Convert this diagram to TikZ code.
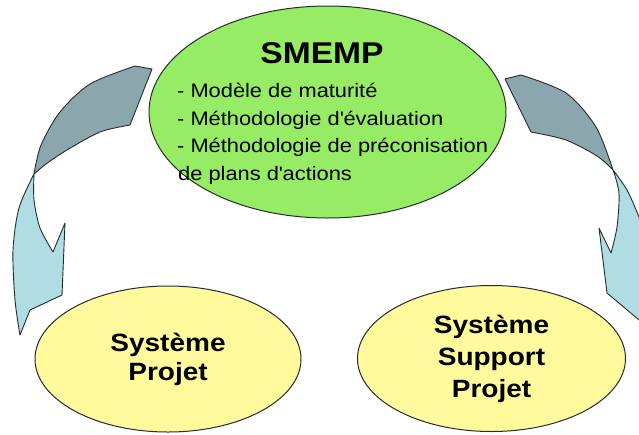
\documentclass[tikz,border=0pt]{standalone}
\usepackage{fontspec}
\setmainfont{Liberation Sans}[FakeStretch=1.12]
\usetikzlibrary{shapes.geometric}
\definecolor{smgreen}{RGB}{150,236,100}
\definecolor{syellow}{RGB}{255,250,155}
\definecolor{bandback}{RGB}{140,166,174}
\definecolor{bandfront}{RGB}{176,220,228}
\definecolor{edgecol}{RGB}{35,45,45}
\begin{document}
\begin{tikzpicture}[x=1pt,y=-1pt,
  oval/.style={draw=edgecol,line width=1pt,ellipse,inner sep=0pt},
  band/.style={draw=edgecol,line width=0.9pt,line join=round},
  bigtitle/.style={font=\fontsize{30}{30}\selectfont\bfseries,inner sep=0pt,anchor=base},
  item/.style={font=\fontsize{19.5}{20}\selectfont,inner sep=0pt,anchor=base west},
  sysl/.style={font=\fontsize{25}{25}\selectfont\bfseries,inner sep=0pt,anchor=base}]
\useasboundingbox (0,0) rectangle (639,434);
\begin{scope}
\clip (0,0) rectangle (639,434);
% left ribbon arrow
\path[band,fill=bandback] (135,66) -- (152,69) -- (130,125)
  -- plot[smooth] coordinates {(130,125) (100,132) (67,150) (46,164) (34,174)}
  -- plot[smooth] coordinates {(34,174) (41,145) (60,112) (90,84) (135,66)} -- cycle;
\path[band,fill=bandfront] (34,174)
  -- plot[smooth] coordinates {(34,174) (34,200) (40,228) (53,252)}
  -- (65,223) -- (62,295) -- (30,310) -- (20,335)
  -- plot[smooth] coordinates {(20,335) (15,300) (13,250) (19,208) (34,174)} -- cycle;
% right ribbon arrow
\path[band,fill=bandback] (505,79) -- (521,75)
  -- plot[smooth] coordinates {(521,75) (566,93) (596,127) (613,170)}
  -- plot[smooth] coordinates {(613,170) (597,156) (566,140) (531,132)} -- cycle;
\path[band,fill=bandfront] (613,170)
  -- plot[smooth] coordinates {(613,170) (619,193) (617,227) (611,253)}
  -- (599,228) -- (607,293) -- (645,325) -- (652,250)
  -- plot[smooth] coordinates {(652,250) (639,217) (627,190) (613,170)} -- cycle;
\end{scope}
% ovals
\node[oval,fill=smgreen,minimum width=357pt,minimum height=212pt] (smemp) at (327.5,112) {};
\node[oval,fill=syellow,minimum width=266pt,minimum height=146pt] (sp) at (168,359) {};
\node[oval,fill=syellow,minimum width=268pt,minimum height=146pt] (ssp) at (491.5,358.5) {};
% texts
\node[bigtitle] (title) at (322,63) {SMEMP};
\node[item] (l1) at (177,97) {- Modèle de maturité};
\node[item] (l2) at (177,125) {- Méthodologie d\textquotesingle évaluation};
\node[item] (l3) at (177,152) {- Méthodologie de préconisation};
\node[item] (l4) at (178,180) {de plans d\textquotesingle actions};
\node[sysl] (sp1) at (168,351) {Système};
\node[sysl] (sp2) at (168,380) {Projet};
\node[sysl] (ssp1) at (491.5,333) {Système};
\node[sysl] (ssp2) at (491.5,365) {Support};
\node[sysl] (ssp3) at (491.5,397) {Projet};
\end{tikzpicture}
\end{document}
